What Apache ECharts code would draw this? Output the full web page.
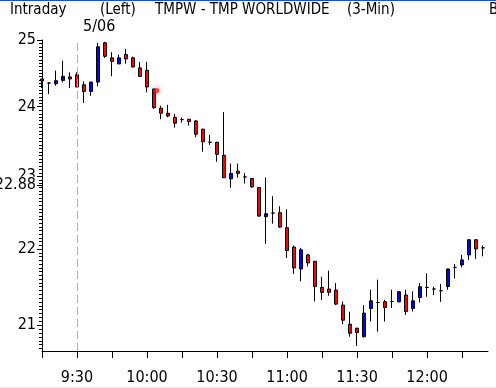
<!DOCTYPE html>
<html><head><meta charset="utf-8">
<script src="https://cdn.jsdelivr.net/npm/echarts@6/dist/echarts.min.js"></script>
<style>html,body{margin:0;padding:0;background:#fff}#c{width:496px;height:388px}</style>
</head><body><div id="c"></div>
<script>
// 3-minute bars, 9:15 .. 12:24
const times = ['9:15','9:18','9:21','9:24','9:27','9:30','9:33','9:36','9:39','9:42','9:45','9:48','9:51','9:54','9:57',
 '10:00','10:03','10:06','10:09','10:12','10:15','10:18','10:21','10:24','10:27','10:30','10:33','10:36','10:39','10:42','10:45','10:48','10:51','10:54','10:57',
 '11:00','11:03','11:06','11:09','11:12','11:15','11:18','11:21','11:24','11:27','11:30','11:33','11:36','11:39','11:42','11:45','11:48','11:51','11:54','11:57',
 '12:00','12:03','12:06','12:09','12:12','12:15','12:18','12:21','12:24'];
const open = [24.411,24.350,24.340,24.389,24.441,24.475,24.325,24.225,24.365,24.957,
 24.728,24.637,24.778,24.728,24.577,24.540,24.261,23.978,23.904,23.845,
 23.811,23.817,23.792,23.671,23.483,23.483,23.297,22.963,23.072,22.990,
 22.968,22.842,22.438,22.488,22.493,22.287,22.023,21.731,21.919,21.834,
 21.487,21.466,21.453,21.256,21.009,20.958,20.849,21.212,21.290,21.299,
 21.303,21.299,21.387,21.212,21.355,21.487,21.466,21.444,21.500,21.753,
 21.785,21.919,22.123,22.014];
const close = [24.380,24.350,24.385,24.450,24.411,24.291,24.225,24.365,24.896,24.752,
 24.676,24.728,24.712,24.592,24.450,24.291,23.987,23.904,23.864,23.759,
 23.811,23.782,23.599,23.492,23.483,23.311,22.979,23.040,23.040,22.990,
 22.851,22.446,22.479,22.488,22.295,21.978,21.745,21.987,21.812,21.500,
 21.422,21.422,21.269,21.061,20.893,20.901,21.152,21.312,21.290,21.225,
 21.303,21.431,21.173,21.312,21.497,21.487,21.466,21.444,21.731,21.753,
 21.852,22.123,22.000,22.014];
const low = [24.276,24.186,24.310,24.359,24.276,24.291,24.053,24.161,24.299,24.728,
 24.450,24.634,24.641,24.581,24.450,24.210,23.968,23.817,23.845,23.695,
 23.767,23.724,23.555,23.348,23.445,23.205,22.975,22.839,22.979,22.897,
 22.839,22.438,22.069,22.342,22.287,21.879,21.665,21.567,21.766,21.303,
 21.321,21.378,21.256,21.009,20.849,20.731,20.836,21.043,20.914,21.043,
 21.217,21.290,21.130,21.173,21.290,21.365,21.387,21.299,21.457,21.606,
 21.753,21.852,21.866,21.901];
const high = [24.415,24.360,24.536,24.687,24.510,24.510,24.374,24.365,24.957,24.972,
 24.813,24.778,24.865,24.748,24.667,24.667,24.265,24.013,24.028,23.895,
 23.840,23.820,23.807,23.680,23.589,23.490,23.920,23.179,23.179,23.044,
 22.970,22.845,22.982,22.720,22.581,22.539,22.046,22.014,21.933,21.834,
 21.629,21.709,21.546,21.303,21.169,20.960,21.256,21.457,21.589,21.325,
 21.457,21.431,21.457,21.435,21.546,21.673,21.497,21.532,21.735,21.798,
 21.919,22.130,22.130,22.046];
const xTickTimes = ['9:15','9:30','9:45','10:00','10:15','10:30','10:45','11:00','11:15','11:30','11:45','12:00','12:15'];
const xLabels = ['9:30','10:00','10:30','11:00','11:30','12:00'];
const yLabels = [21, 22, 23, 24, 25];
const lastPrice = 22.88;
const sessionStart = '9:30';
const cursorPoint = [16.4, 24.24];

const FONT = "'Liberation Sans Narrow','DejaVu Sans Condensed','Arial Narrow',sans-serif";
const Y_MIN = 20.667, Y_MAX = 25;
const minorTicks = [];
for (let k = 414; k < 500; k++) { if (k % 20 !== 0) minorTicks.push(k / 20); }
const majorTicks = yLabels.concat([lastPrice]);

const candleData = times.map((t, i) => [i, open[i], close[i], low[i], high[i]]);
const chart = echarts.init(document.getElementById('c'), null, {renderer: 'canvas', width: 496, height: 388});
const txt = (s, x, y, size) => ({type: 'text', x: x, y: y, style: {text: s, font: (size || 15) + 'px ' + FONT, fill: '#000', verticalAlign: 'middle'}});
chart.setOption({
  animation: false,
  backgroundColor: '#fff',
  grid: {left: 42, right: 8, top: 40, bottom: 37, containLabel: false, outerBoundsMode: 'none'},
  xAxis: {
    type: 'value', min: 0, max: 63.7,
    axisLine: {show: true, lineStyle: {color: '#000', width: 1}},
    axisTick: {show: true, inside: false, length: 7, customValues: xTickTimes.map(t => times.indexOf(t)), lineStyle: {color: '#000'}},
    axisLabel: {customValues: xLabels.map(t => times.indexOf(t)), formatter: v => times[Math.round(v)],
      fontFamily: FONT, fontSize: 16, color: '#000', margin: 19},
    splitLine: {show: false}
  },
  yAxis: {
    type: 'log', min: Y_MIN, max: Y_MAX, position: 'left',
    axisLine: {show: true, lineStyle: {color: '#000', width: 1}},
    axisTick: {show: true, inside: false, length: 5, customValues: majorTicks, lineStyle: {color: '#000', width: 1}},
    axisLabel: {customValues: majorTicks,
      formatter: v => Math.abs(v - lastPrice) < 1e-6 ? '{w|' + lastPrice.toFixed(2) + '}' : String(v),
      fontFamily: FONT, fontSize: 16, color: '#000', margin: 6,
      rich: {w: {fontFamily: FONT, fontSize: 16, color: '#000', backgroundColor: '#fff'}}},
    splitLine: {show: false}
  },
  series: [{
    type: 'candlestick',
    data: candleData,
    barWidth: 4,
    itemStyle: {color: '#0000ff', color0: '#ff0000', borderColor: '#000', borderColor0: '#000', borderColorDoji: '#000', borderWidth: 1},
    markLine: {silent: true, symbol: 'none', label: {show: false},
      lineStyle: {color: '#b4b4b4', type: [8, 4], width: 1},
      data: [{xAxis: times.indexOf(sessionStart)}]}
  }, {
    // minor ticks of the price axis, placed through the same log scale
    type: 'custom', clip: false, silent: true,
    data: minorTicks.map(v => [0, v]),
    renderItem: (params, api) => {
      const p = api.coord([api.value(0), api.value(1)]);
      const y = Math.round(p[1]) + 0.5;
      return {type: 'line', shape: {x1: p[0] - 3, y1: y, x2: p[0], y2: y}, style: {stroke: '#000', lineWidth: 1}};
    }
  }, {
    type: 'scatter', data: [cursorPoint], symbol: 'circle', symbolSize: 5,
    itemStyle: {color: '#ff2020', shadowBlur: 6, shadowColor: 'rgba(0,0,0,0.6)'}
  }],
  graphic: [
    {type: 'rect', shape: {x: 0, y: 0, width: 496, height: 1}, style: {fill: '#1450dc'}},
    {type: 'rect', shape: {x: 0, y: 387, width: 496, height: 1}, style: {fill: '#e4e4e4'}},
    txt('Intraday', 10, 10), txt('(Left)', 100, 10), txt('TMPW - TMP WORLDWIDE', 155, 10),
    txt('(3-Min)', 347, 10), txt('B', 489, 10), txt('5/06', 83, 27, 16)
  ]
});
</script></body></html>
